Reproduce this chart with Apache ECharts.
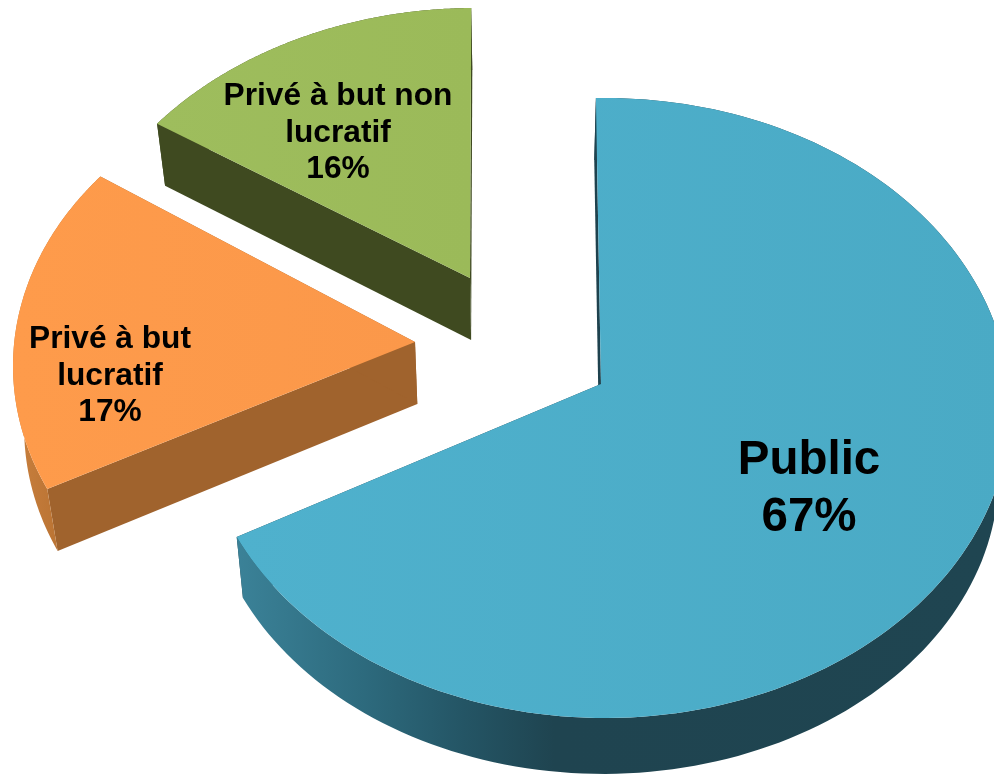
<!DOCTYPE html>
<html>
<head>
<meta charset="utf-8">
<style>html,body{margin:0;padding:0;background:#fff}#c{width:994px;height:774px}</style>
<script src="https://cdn.jsdelivr.net/npm/echarts@6/dist/echarts.min.js"></script>
</head>
<body>
<div id="c"></div>
<script>
// Data
const categories = ['Public', 'Privé à but\nlucratif', 'Privé à but non\nlucratif'];
const shares = [67, 17, 16];

// Layout of each exploded slice: projected rim ellipse, projected pie centre, label
const ellipses = [
  {cx: 605, cy: 408, a: 405, b: 310},
  {cx: 408, cy: 366, a: 395, b: 302},
  {cx: 475, cy: 322, a: 410, b: 314}
];
const apexes = [[601, 384], [415, 342], [470, 278]];
// small view-dependent corrections of each slice's edges, in degrees
const edgeTilt = [[-0.8, 0], [1.1, 2.2], [0.65, 0.15]];
const labelAt = [[809, 489], [110, 376], [338, 133]];
const labelFont = [[47.5, 57], [31.7, 36.5], [31.7, 36.5]];

// Colours
const topColors = [['#4fb1cd', '#4aaac5'], ['#fe9b4b', '#fb984a'], ['#9ebd5d', '#9bba59']];
const wallColors = ['#1e424e', '#a0632d', '#3f4a20'];
const rimStops = [
  {x: 236, x2: 994, stops: [[0, '#3b8298'], [0.17, '#2d6a7d'], [0.3, '#245565'], [0.42, '#1f4450'], [1, '#1f4551']]},
  {x: 13, x2: 56, stops: [[0, '#c9803e'], [1, '#bb7434']]},
  {x: 150, x2: 470, stops: [[0, '#3f4a20'], [1, '#3f4a20']]}
];

// Perspective collineation of the unit disc sending its centre to the apex
function project(e, apex, theta) {
  const ux = Math.sin(theta), uy = Math.cos(theta);
  const px = (apex[0] - e.cx) / e.a, py = (e.cy - apex[1]) / e.b;
  const m = Math.hypot(px, py);
  const hx = px / m, hy = py / m;
  const par = ux * hx + uy * hy;
  const perpX = ux - par * hx, perpY = uy - par * hy;
  const k = Math.sqrt(1 - m * m), d = 1 + ux * px + uy * py;
  const X = ((par + m) * hx + k * perpX) / d;
  const Y = ((par + m) * hy + k * perpY) / d;
  return [e.cx + e.a * X, e.cy - e.b * Y];
}
// Underside of the disc
function lower(pt) {
  return [pt[0] + (520 - pt[0]) * 0.022, pt[1] + 62 - Math.max(0, pt[1] - 500) * 0.028];
}
function arc(e, apex, t0, t1) {
  const pts = [], n = 160;
  for (let i = 0; i <= n; i++) pts.push(project(e, apex, t0 + (t1 - t0) * i / n));
  return pts;
}

const total = shares.reduce((s, v) => s + v, 0);
function gradient(x, x2, stops) {
  return {type: 'linear', global: true, x: x, y: 0, x2: x2, y2: 0,
    colorStops: stops.map(s => ({offset: s[0], color: s[1]}))};
}

function renderItem(params, api) {
  const i = params.dataIndex;
  let before = 0;
  for (let k = 0; k < i; k++) before += shares[k];
  const v = api.value(0);
  const rad = Math.PI / 180;
  const t0 = before / total * 2 * Math.PI + edgeTilt[i][0] * rad;
  const t1 = (before + v) / total * 2 * Math.PI + edgeTilt[i][1] * rad;
  const e = ellipses[i], apex = apexes[i];
  const rim = arc(e, apex, t0, t1);
  const rimLow = rim.map(lower).reverse();
  const aLow = lower(apex);
  const r0 = rim[0], r1 = rim[rim.length - 1];
  const rs = rimStops[i];
  const poly = (points, fill) => ({type: 'polygon', shape: {points}, style: {fill, stroke: null}, silent: true});
  const lf = labelFont[i];
  return {
    type: 'group',
    children: [
      poly([apex, r0, lower(r0), aLow], wallColors[i]),
      poly([apex, r1, lower(r1), aLow], wallColors[i]),
      poly(rim.concat(rimLow), gradient(rs.x, rs.x2, rs.stops)),
      poly([apex].concat(rim), {type: 'linear', x: 0, y: 0, x2: 1, y2: 0,
        colorStops: [{offset: 0, color: topColors[i][0]}, {offset: 1, color: topColors[i][1]}]}),
      {type: 'text', silent: true, style: {
        text: categories[i] + '\n' + v + '%',
        x: labelAt[i][0], y: labelAt[i][1],
        align: 'center', verticalAlign: 'middle',
        fontFamily: '"Liberation Sans", Arial, sans-serif',
        fontWeight: 'bold', fontSize: lf[0], lineHeight: lf[1], fill: '#000'
      }}
    ]
  };
}

const chart = echarts.init(document.getElementById('c'), null, {renderer: 'canvas', width: 994, height: 774});
chart.setOption({
  animation: false,
  backgroundColor: '#fff',
  series: [{
    type: 'custom',
    coordinateSystem: 'none',
    renderItem: renderItem,
    data: shares.map((v, i) => ({name: categories[i], value: [v]}))
  }]
});
</script>
</body>
</html>
